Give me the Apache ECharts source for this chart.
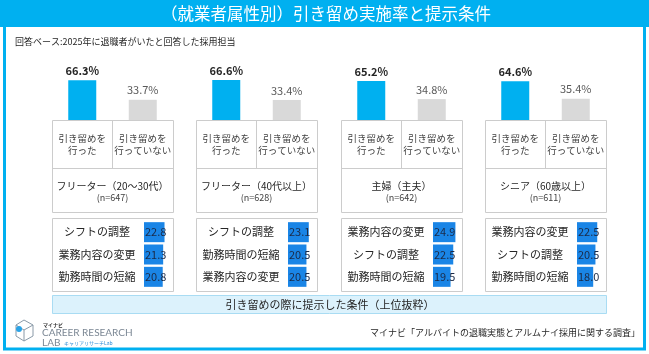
<!DOCTYPE html>
<html>
<head>
<meta charset="utf-8">
<script src="https://cdn.jsdelivr.net/npm/echarts@6.0.0/dist/echarts.min.js"></script>
<style>
  html, body { margin: 0; padding: 0; background: #fff; }
  #chart { width: 649px; height: 354px; }
</style>
</head>
<body>
<div id="chart"></div>
<script>
// data
const groups = ['フリーター（20～30代）', 'フリーター（40代以上）', '主婦（主夫）', 'シニア（60歳以上）'];
const sampleSizes = ['(n=647)', '(n=628)', '(n=642)', '(n=611)'];
const answers = ['引き留めを\n行った', '引き留めを\n行っていない'];
const retained = [66.3, 66.6, 65.2, 64.6];
const notRetained = [33.7, 33.4, 34.8, 35.4];
const conditionNames = [
  ['シフトの調整', '業務内容の変更', '勤務時間の短縮'],
  ['シフトの調整', '勤務時間の短縮', '業務内容の変更'],
  ['業務内容の変更', 'シフトの調整', '勤務時間の短縮'],
  ['業務内容の変更', 'シフトの調整', '勤務時間の短縮']
];
const conditionValues = [
  [22.8, 21.3, 20.8],
  [23.1, 20.5, 20.5],
  [24.9, 22.5, 19.5],
  [22.5, 20.5, 18.0]
];

const FONT = "'Noto Sans CJK JP', 'Noto Sans', sans-serif";
const BLUE = '#00b0f0';
const GRAY = '#d9d9d9';
const COND_BLUE = '#1a85e6';
const LINE = '#cccccc';

const groupLeft = [52, 196, 341, 485];
const boxW = 121;

const chart = echarts.init(document.getElementById('chart'));

const grid = [], xAxis = [], yAxis = [], series = [], graphic = [];

groups.forEach((g, i) => {
  const x0 = groupLeft[i];

  // top: retention rate bars
  grid.push({ left: x0, top: 60, width: boxW, height: 60 });
  xAxis.push({
    gridIndex: 2 * i, type: 'category', data: answers,
    axisLine: { show: false }, axisTick: { show: false },
    axisLabel: { margin: 12, fontSize: 9.5, lineHeight: 12, color: '#404040', fontFamily: FONT, interval: 0 }
  });
  yAxis.push({ gridIndex: 2 * i, type: 'value', min: 0, max: 100, show: false });
  series.push({
    type: 'bar', xAxisIndex: 2 * i, yAxisIndex: 2 * i, barWidth: 28,
    data: [
      { value: retained[i], itemStyle: { color: BLUE },
        label: { fontWeight: 'bold', color: '#262626' } },
      { value: notRetained[i], itemStyle: { color: GRAY },
        label: { color: '#595959' } }
    ],
    label: { show: true, position: 'top', distance: 4, fontSize: 11, fontFamily: FONT, formatter: '{c}%' }
  });

  // bottom: conditions offered
  grid.push({ left: x0 + 92, top: 221, width: 27, height: 67 });
  xAxis.push({ gridIndex: 2 * i + 1, type: 'value', min: 0, max: 30, show: false });
  yAxis.push({
    gridIndex: 2 * i + 1, type: 'category', inverse: true, data: conditionNames[i],
    axisLine: { show: false }, axisTick: { show: false },
    axisLabel: { margin: 47, align: 'center', fontSize: 11, color: '#262626', fontFamily: FONT }
  });
  series.push({
    type: 'bar', xAxisIndex: 2 * i + 1, yAxisIndex: 2 * i + 1, barWidth: 20,
    itemStyle: { color: COND_BLUE },
    data: conditionValues[i],
    label: { show: true, position: 'insideLeft', distance: 1, fontSize: 11, color: '#1b2a47', fontFamily: FONT,
      formatter: p => p.value.toFixed(1) }
  });

  // frames around each group
  graphic.push(
    { type: 'rect', shape: { x: x0 + 0.5, y: 120.5, width: boxW, height: 92 }, style: { fill: 'none', stroke: LINE, lineWidth: 1 } },
    { type: 'line', shape: { x1: x0, y1: 168.5, x2: x0 + boxW, y2: 168.5 }, style: { stroke: LINE, lineWidth: 1 } },
    { type: 'line', shape: { x1: x0 + 60.5, y1: 120, x2: x0 + 60.5, y2: 168 }, style: { stroke: LINE, lineWidth: 1 } },
    { type: 'rect', shape: { x: x0 + 0.5, y: 218.5, width: boxW, height: 73 }, style: { fill: 'none', stroke: LINE, lineWidth: 1 } },
    { type: 'text', x: x0 + boxW / 2, y: 186, style: { text: g, fontSize: 10, fill: '#262626', fontFamily: FONT, align: 'center', verticalAlign: 'middle' } },
    { type: 'text', x: x0 + boxW / 2, y: 198, style: { text: sampleSizes[i], fontSize: 9, fill: '#404040', fontFamily: FONT, align: 'center', verticalAlign: 'middle' } }
  );
});

graphic.push(
  // outer frame and title band
  { type: 'rect', z: -10, shape: { x: 4.5, y: 20, width: 640, height: 329 }, style: { fill: '#fff', stroke: BLUE, lineWidth: 3 } },
  { type: 'rect', shape: { x: 0, y: 0, width: 649, height: 27 }, style: { fill: BLUE } },
  { type: 'text', x: 326, y: 14, style: { text: '（就業者属性別）引き留め実施率と提示条件', fontSize: 16.5, fill: '#fff', fontFamily: FONT, align: 'center', verticalAlign: 'middle' } },
  { type: 'text', x: 15, y: 42, style: { text: '回答ベース:2025年に退職者がいたと回答した採用担当', fontSize: 9, fill: '#262626', fontFamily: FONT, verticalAlign: 'middle' } },
  // caption band
  { type: 'rect', shape: { x: 52.5, y: 295.5, width: 554, height: 18 }, style: { fill: '#dcf2fc', stroke: '#a9dcf3', lineWidth: 1 } },
  { type: 'text', x: 330, y: 304.5, style: { text: '引き留めの際に提示した条件（上位抜粋）', fontSize: 11, fill: '#262626', fontFamily: FONT, align: 'center', verticalAlign: 'middle' } },
  // source
  { type: 'text', x: 640, y: 333, style: { text: 'マイナビ「アルバイトの退職実態とアルムナイ採用に関する調査」', fontSize: 9, fill: '#262626', fontFamily: FONT, align: 'right', verticalAlign: 'middle' } },
  // logo
  { type: 'polygon', shape: { points: [[24, 320], [33, 325], [33, 336], [24, 341], [16, 336], [16, 325]] }, style: { fill: 'none', stroke: '#8a9aa8', lineWidth: 1 } },
  { type: 'polyline', shape: { points: [[16, 325], [24, 330], [33, 325]] }, style: { stroke: '#8a9aa8', lineWidth: 1 } },
  { type: 'line', shape: { x1: 24, y1: 330, x2: 24, y2: 341 }, style: { stroke: '#8a9aa8', lineWidth: 1 } },
  { type: 'circle', shape: { cx: 19, cy: 329, r: 3 }, style: { fill: '#2aa3e6' } },
  { type: 'text', x: 43, y: 325, style: { text: 'マイナビ', fontSize: 5, fontWeight: 'bold', fill: '#333', fontFamily: FONT, verticalAlign: 'middle' } },
  { type: 'text', x: 42, y: 333, style: { text: 'CAREER RESEARCH', fontSize: 10, fill: '#7b8794', fontFamily: "'Lato', 'Noto Sans', sans-serif", verticalAlign: 'middle' } },
  { type: 'text', x: 42, y: 343, style: { text: 'LAB', fontSize: 10, fill: '#7b8794', fontFamily: "'Lato', 'Noto Sans', sans-serif", verticalAlign: 'middle' } },
  { type: 'text', x: 64, y: 343, style: { text: 'キャリアリサーチLab', fontSize: 5, fill: '#2a8bd6', fontFamily: FONT, verticalAlign: 'middle' } }
);

chart.setOption({
  animation: false,
  grid, xAxis, yAxis, series, graphic
});
</script>
</body>
</html>
